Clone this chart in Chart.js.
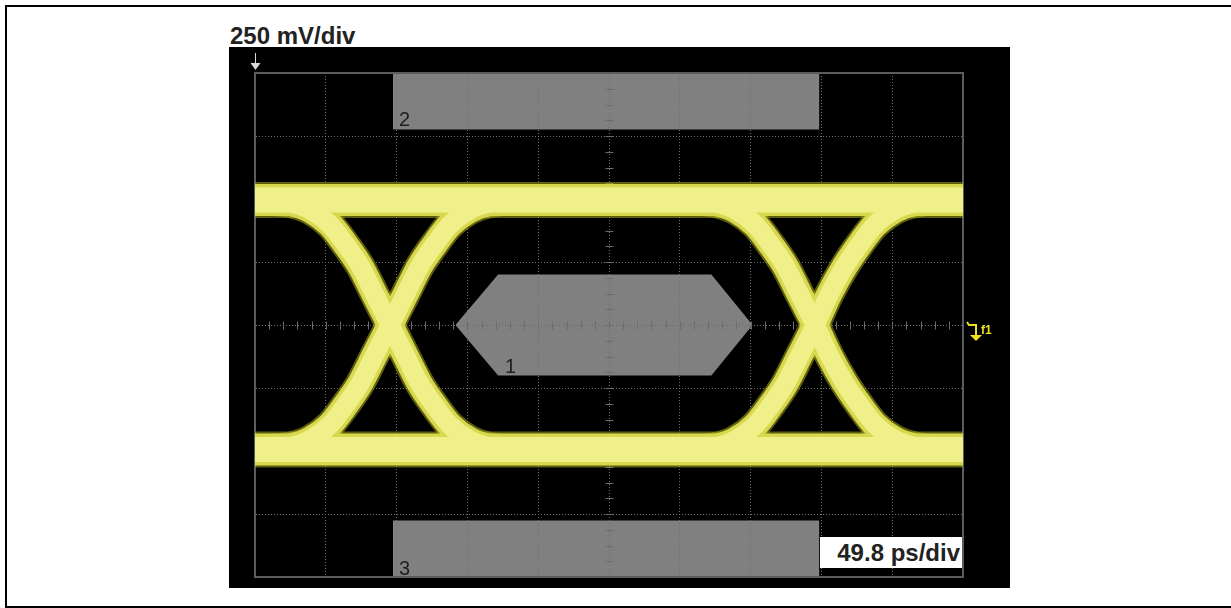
<!DOCTYPE html>
<html>
<head>
<meta charset="utf-8">
<script src="https://cdn.jsdelivr.net/npm/chart.js@4.4.0/dist/chart.umd.min.js"></script>
<style>
  body { margin: 0; background: #fff; width: 1231px; height: 608px; overflow: hidden; position: relative; font-family: "Liberation Sans", Arial, sans-serif; }
  #frame { position: absolute; left: 5px; top: 5px; width: 1240px; height: 599px; border: 2px solid #000; }
  #vdiv { position: absolute; left: 230px; top: 24px; font-weight: bold; font-size: 24px; line-height: 1; color: #222; }
  #screen { position: absolute; left: 229px; top: 47px; width: 781px; height: 541px; background: #000; }
  #hdiv { position: absolute; left: 820px; top: 537px; width: 142px; height: 31px; padding-right: 2px; box-sizing: border-box; background: #fff; font-weight: bold; font-size: 24px; color: #222; text-align: right; line-height: 31px; }
</style>
</head>
<body>
<div id="frame"></div>
<div id="vdiv">250 mV/div</div>
<div id="screen"><canvas id="eyeChart"></canvas></div>
<div id="hdiv">49.8 ps/div</div>
<script>
// time axis in ps (49.8 ps/div), amplitude in mV (250 mV/div)
var timePs = [0, 25, 39, 53, 63, 74, 84, 95, 106, 116, 127, 137, 151, 165, 186, 249,
              299, 324, 338, 352, 362, 373, 383, 394, 404, 415, 426, 436, 450, 464, 485, 498];
// 1 -> 0 -> 1 trace
var fallRise = [496, 484, 456, 397, 325, 234, 123, 0, -123, -234, -325, -397, -456, -484, -496, -496,
                -496, -484, -456, -397, -325, -234, -123, 0, 123, 234, 325, 397, 456, 484, 496, 496];
// 0 -> 1 -> 0 trace
var riseFall = [-494, -482, -454, -395, -323, -232, -121, 0, 123, 234, 325, 397, 456, 484, 496, 496,
                496, 484, 456, 397, 325, 234, 123, 0, -121, -232, -323, -395, -454, -482, -494, -494];
var railTime = [0, 498];
var railHigh = [496, 496];
var railLow = [-494, -494];

// masks
var mask1X = [141, 171, 321, 350];
var mask1Upper = [0, 200, 200, 0];
var mask1Lower = [0, -200, -200, 0];
var mask2X = [97, 397];
var mask2Y = [1000, 1000];
var mask2Base = 776;
var mask3X = [97, 397];
var mask3Y = [-776, -776];
var mask3Base = -1000;
var maskLabels = ["1", "2", "3"];

var timeMax = 498;
var divPs = 49.8;
var voltMax = 1000;
var divMv = 250;

function pts(xs, ys) {
    return xs.map(function (v, i) {
        return { x: v, y: ys[i] };
    });
}

var maskGrey = "#808080";
function maskSet(xs, ys, base) {
    return {
        data: pts(xs, ys),
        showLine: true,
        borderWidth: 0,
        borderColor: maskGrey,
        backgroundColor: maskGrey,
        pointRadius: 0,
        fill: { value: base },
        order: 5
    };
}

function traceSet(data, color, width, order) {
    return {
        data: data, showLine: true, pointRadius: 0, fill: false, clip: 0,
        borderColor: color, borderWidth: width, cubicInterpolationMode: "monotone",
        borderJoinStyle: "round", order: order
    };
}

var rails = [pts(railTime, railHigh), pts(railTime, railLow)];
var edges = [pts(timePs, fallRise), pts(timePs, riseFall)];
var datasets = [
    maskSet(mask1X, mask1Upper, 0),
    maskSet(mask1X, mask1Lower, 0),
    maskSet(mask2X, mask2Y, mask2Base),
    maskSet(mask3X, mask3Y, mask3Base)
];
// fuzzy outer halo, darker edge, bright core
rails.forEach(function (t) { datasets.push(traceSet(t, "rgba(170,170,30,0.55)", 36, 4)); });
edges.forEach(function (t) { datasets.push(traceSet(t, "rgba(170,170,30,0.55)", 30, 4)); });
rails.forEach(function (t) { datasets.push(traceSet(t, "#d8d84e", 32, 3)); });
edges.forEach(function (t) { datasets.push(traceSet(t, "#d8d84e", 26, 3)); });
rails.forEach(function (t) { datasets.push(traceSet(t, "#f0f08a", 25, 1)); });
edges.forEach(function (t) { datasets.push(traceSet(t, "#f0f08a", 19, 1)); });

var scopeDecor = {
    id: "scopeDecor",
    beforeDatasetsDraw: function (chart) {
        var ctx = chart.ctx;
        var x = chart.scales.x, y = chart.scales.y;
        var cx = Math.round(x.getPixelForValue(timeMax / 2)) + 0.5;
        var cy = Math.round(y.getPixelForValue(0)) + 0.5;
        ctx.save();
        ctx.strokeStyle = "#6c6c6c";
        ctx.lineWidth = 1;
        ctx.beginPath();
        for (var i = 1; i < 50; i++) {
            var px = Math.round(x.getPixelForValue(i * divPs / 5)) + 0.5;
            ctx.moveTo(px, cy - 4);
            ctx.lineTo(px, cy + 4);
        }
        for (var j = 1; j < 32; j++) {
            var py = Math.round(y.getPixelForValue(-voltMax + j * divMv / 4)) + 0.5;
            ctx.moveTo(cx - 4, py);
            ctx.lineTo(cx + 4, py);
        }
        ctx.stroke();

        // mask numbers
        ctx.fillStyle = "#1e1e1e";
        ctx.font = "20px 'Liberation Sans', Arial, sans-serif";
        ctx.textBaseline = "alphabetic";
        ctx.fillText(maskLabels[0], x.getPixelForValue(mask1X[1]) + 7, y.getPixelForValue(-mask1Upper[1]) - 2);
        ctx.fillText(maskLabels[1], x.getPixelForValue(mask2X[0]) + 6, y.getPixelForValue(mask2Base) - 3);
        ctx.fillText(maskLabels[2], x.getPixelForValue(mask3X[0]) + 6, y.getPixelForValue(mask3Base) - 2);
        ctx.restore();
    },
    afterDraw: function (chart) {
        var ctx = chart.ctx;
        var area = chart.chartArea;
        var cy = Math.round(chart.scales.y.getPixelForValue(0));
        ctx.save();
        // ground marker top-left
        var ax = area.left + 0.5;
        ctx.strokeStyle = "#d8d8d8";
        ctx.fillStyle = "#d8d8d8";
        ctx.lineWidth = 1;
        ctx.beginPath();
        ctx.moveTo(ax, area.top - 20);
        ctx.lineTo(ax, area.top - 8);
        ctx.stroke();
        ctx.beginPath();
        ctx.moveTo(ax - 5, area.top - 10);
        ctx.lineTo(ax + 5, area.top - 10);
        ctx.lineTo(ax, area.top - 3);
        ctx.closePath();
        ctx.fill();

        // f1 trigger marker
        var mx = area.right + 13;
        ctx.strokeStyle = "#f0e020";
        ctx.fillStyle = "#f0e020";
        ctx.lineWidth = 2;
        ctx.beginPath();
        ctx.moveTo(area.right + 4, cy - 3);
        ctx.lineTo(area.right + 6, cy);
        ctx.lineTo(mx, cy);
        ctx.lineTo(mx, cy + 10);
        ctx.stroke();
        ctx.beginPath();
        ctx.moveTo(mx - 6, cy + 10);
        ctx.lineTo(mx + 6, cy + 10);
        ctx.lineTo(mx, cy + 16);
        ctx.closePath();
        ctx.fill();
        ctx.font = "bold 12px 'Liberation Sans', Arial, sans-serif";
        ctx.fillText("f1", mx + 5, cy + 9);
        ctx.restore();
    }
};

var gridStyle = {
    display: true, color: "#6e6e6e", lineWidth: 1, drawTicks: false
};
var frameBorder = { display: true, color: "#5c5c5c", width: 2, dash: [1, 2] };

var myChart = new Chart(document.getElementById("eyeChart").getContext("2d"), {
    type: "scatter",
    data: { datasets: datasets },
    plugins: [scopeDecor],
    options: {
        responsive: true,
        maintainAspectRatio: false,
        animation: false,
        events: [],
        devicePixelRatio: 1,
        layout: { padding: { left: 26, top: 26, right: 47, bottom: 11 } },
        plugins: {
            legend: { display: false },
            tooltip: { enabled: false },
            filler: { drawTime: "beforeDraw" }
        },
        scales: {
            x: {
                type: "linear", min: 0, max: timeMax,
                ticks: { display: false },
                afterBuildTicks: function (axis) {
                    axis.ticks = [];
                    for (var i = 0; i <= 10; i++) axis.ticks.push({ value: i * divPs });
                },
                grid: gridStyle,
                border: frameBorder
            },
            y: {
                type: "linear", min: -voltMax, max: voltMax,
                ticks: { display: false, stepSize: divMv },
                grid: gridStyle,
                border: frameBorder
            },
            x2: {
                type: "linear", position: "top", min: 0, max: timeMax,
                ticks: { display: false },
                grid: { display: false, drawTicks: false },
                border: { display: true, color: "#5c5c5c", width: 2 }
            },
            y2: {
                type: "linear", position: "right", min: -voltMax, max: voltMax,
                ticks: { display: false },
                grid: { display: false, drawTicks: false },
                border: { display: true, color: "#5c5c5c", width: 2 }
            }
        }
    }
});
</script>
</body>
</html>
